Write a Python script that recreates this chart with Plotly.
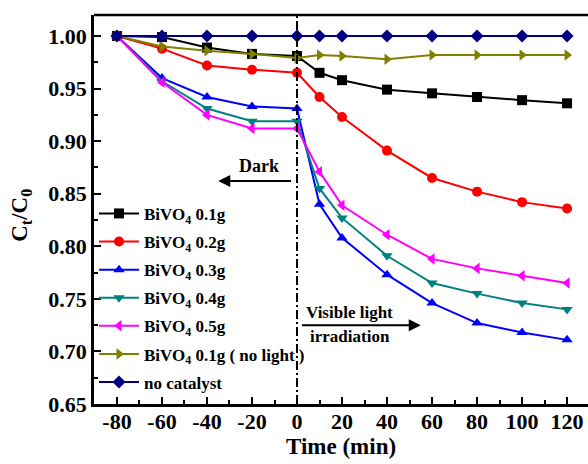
import plotly.graph_objects as go

time = [-80, -60, -40, -20, 0, 10, 20, 40, 60, 80, 100, 120]
x_ticks = [-80, -60, -40, -20, 0, 20, 40, 60, 80, 100, 120]
x_tick_labels = ["-80", "-60", "-40", "-20", "0", "20", "40", "60", "80", "100", "120"]
y_ticks = [0.65, 0.70, 0.75, 0.80, 0.85, 0.90, 0.95, 1.00]
bivo4_01 = [1.000, 0.999, 0.989, 0.983, 0.981, 0.965, 0.958, 0.949, 0.9455, 0.942, 0.939, 0.936]
bivo4_02 = [1.000, 0.988, 0.972, 0.968, 0.965, 0.942, 0.923, 0.891, 0.865, 0.852, 0.842, 0.836]
bivo4_03 = [1.000, 0.960, 0.942, 0.933, 0.931, 0.840, 0.808, 0.773, 0.746, 0.727, 0.718, 0.711]
bivo4_04 = [1.000, 0.957, 0.931, 0.919, 0.919, 0.855, 0.827, 0.791, 0.765, 0.755, 0.746, 0.740]
bivo4_05 = [1.000, 0.956, 0.925, 0.912, 0.912, 0.871, 0.839, 0.811, 0.788, 0.779, 0.772, 0.765]
bivo4_nolight = [1.000, 0.990, 0.986, 0.983, 0.979, 0.982, 0.981, 0.978, 0.982, 0.982, 0.982, 0.982]
no_catalyst = [1.0] * 12

series = [
    ("BiVO<sub>4</sub> 0.1g", bivo4_01, "#000000", "square"),
    ("BiVO<sub>4</sub> 0.2g", bivo4_02, "#FF0000", "circle"),
    ("BiVO<sub>4</sub> 0.3g", bivo4_03, "#0000FF", "triangle-up"),
    ("BiVO<sub>4</sub> 0.4g", bivo4_04, "#008080", "triangle-down"),
    ("BiVO<sub>4</sub> 0.5g", bivo4_05, "#FF00FF", "triangle-left"),
    ("BiVO<sub>4</sub> 0.1g ( no light )", bivo4_nolight, "#808000", "triangle-right"),
    ("no catalyst", no_catalyst, "#000080", "diamond"),
]

FONT = "Liberation Serif"
fig = go.Figure()
for i, (name, ys, color, sym) in enumerate(series):
    fig.add_trace(go.Scatter(
        x=time, y=ys, name="<b>" + name + "</b>", mode="lines+markers",
        line=dict(color=color, width=2),
        marker=dict(symbol=sym, size=10, color=color),
        legendgroup=f"g{i}",
    ))

fig.add_shape(type="line", xref="x", yref="paper", x0=0, x1=0, y0=0, y1=1,
              line=dict(color="black", width=2, dash="9px,3px,2px,3px"))
fig.add_shape(type="line", xref="paper", yref="paper", x0=0, x1=1, y0=1, y1=1,
              line=dict(color="black", width=2.5))

fig.add_annotation(x=-35, y=0.862, ax=-2, ay=0.862, xref="x", yref="y", axref="x", ayref="y",
                   text="", showarrow=True, arrowhead=2, arrowsize=1.2, arrowwidth=2, arrowcolor="black")
fig.add_annotation(x=-17, y=0.876, text="<b>Dark</b>", showarrow=False,
                   font=dict(family=FONT, size=18, color="black"))
fig.add_annotation(x=55, y=0.725, ax=1.5, ay=0.725, xref="x", yref="y", axref="x", ayref="y",
                   text="", showarrow=True, arrowhead=2, arrowsize=1.2, arrowwidth=2, arrowcolor="black")
fig.add_annotation(x=23.5, y=0.7375, text="<b>Visible light</b>", showarrow=False,
                   font=dict(family=FONT, size=17, color="black"))
fig.add_annotation(x=23.5, y=0.7145, text="<b>irradiation</b>", showarrow=False,
                   font=dict(family=FONT, size=17, color="black"))
# axis titles as annotations for precise placement
fig.add_annotation(xref="paper", yref="paper", x=-0.148, y=0.486, textangle=-90,
                   text="<b>C<sub>t</sub>/C<sub>0</sub></b>", showarrow=False,
                   xanchor="center", yanchor="middle",
                   font=dict(family=FONT, size=23, color="black"))
fig.add_annotation(xref="paper", yref="paper", x=0.5, y=-0.108,
                   text="<b>Time (min)</b>", showarrow=False,
                   xanchor="center", yanchor="middle",
                   font=dict(family=FONT, size=23, color="black"))

fig.update_layout(
    width=588, height=464,
    margin=dict(l=94, r=0, t=15, b=60),
    paper_bgcolor="white", plot_bgcolor="white",
    font=dict(family=FONT, color="black"),
    showlegend=True,
    legend=dict(x=0.0, y=0.535, xanchor="left", yanchor="top",
                bgcolor="rgba(0,0,0,0)", tracegroupgap=3,
                font=dict(family=FONT, size=17),
                itemwidth=40),
)
fig.update_xaxes(
    range=[-90.2, 129.3], tickvals=x_ticks, ticktext=x_tick_labels,
    automargin=False,
    showline=True, linecolor="black", linewidth=2.5, mirror=False,
    ticks="inside", ticklen=7, tickwidth=2, tickcolor="black",
    ticklabelstandoff=-4,
    minor=dict(ticks="inside", dtick=10, tick0=0, ticklen=4, tickwidth=2, tickcolor="black"),
    showgrid=False, zeroline=False,
    tickfont=dict(family=FONT, size=22, weight="bold"),
)
fig.update_yaxes(
    range=[0.65, 1.02], tickvals=y_ticks,
    tickformat=".2f",
    automargin=False,
    showline=True, linecolor="black", linewidth=2.5, mirror=False,
    ticks="inside", ticklen=7, tickwidth=2, tickcolor="black",
    minor=dict(ticks="inside", dtick=0.025, tick0=0.65, ticklen=4, tickwidth=2, tickcolor="black"),
    showgrid=False, zeroline=False,
    tickfont=dict(family=FONT, size=22, weight="bold"),
)

fig.write_html("out.html", config={"displayModeBar": False},
               post_script="document.body.style.margin='0';")
